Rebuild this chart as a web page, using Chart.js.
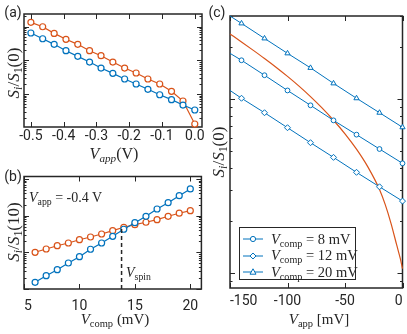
<!DOCTYPE html>
<html lang="en">
<head>
<meta charset="UTF-8">
<title>Spin signal vs bias</title>
<script src="https://cdn.jsdelivr.net/npm/chart.js"></script>
<style>
    body {
        margin: 0;
        width: 407px;
        height: 334px;
        overflow: hidden;
        position: relative;
        background: #fff;
        color: #262626;
        font-family: Roboto, sans-serif;
    }
    canvas { position: absolute; }
    .t {
        position: absolute;
        white-space: nowrap;
        line-height: 1;
        transform: translate(-50%, -50%);
    }
    .m { font-family: "Liberation Serif", serif; }
    .m sub { font-size: 70%; vertical-align: -0.3em; line-height: 0; }
    .rot { transform: translate(-50%, -50%) rotate(-90deg); }
    .left { transform: translate(0, -50%); }
    #legendC {
        position: absolute;
        left: 239px; top: 227px;
        width: 117px; height: 53px;
        box-sizing: border-box;
        border: 1px solid #262626;
        background: #fff;
    }
</style>
</head>
<body>

<canvas id="chartA" width="210" height="150" style="left:0;top:0"></canvas>
<canvas id="chartB" width="210" height="160" style="left:0;top:160px"></canvas>
<canvas id="chartC" width="203" height="320" style="left:210px;top:0"></canvas>

<div class="t" style="left:13px;top:12px;font-size:14px">(a)</div>
<div class="t" style="left:13px;top:176px;font-size:14px">(b)</div>
<div class="t" style="left:217px;top:12px;font-size:14px">(c)</div>

<div class="t m rot" style="left:13px;top:73px;font-size:17px"><i>S</i><sub><i>i</i></sub>/<i>S</i><sub>1</sub>(0)</div>
<div class="t m" style="left:114px;top:154px;font-size:16px"><i>V</i><sub><i>app</i></sub>(V)</div>

<div class="t m rot" style="left:13px;top:232px;font-size:17px"><i>S</i><sub><i>i</i></sub>/<i>S</i><sub>1</sub>(10)</div>
<div class="t m" style="left:115px;top:319px;font-size:15px"><i>V</i><sub>comp</sub> (mV)</div>
<div class="t m left" style="left:29px;top:198px;font-size:14px"><i>V</i><sub>app</sub> = -0.4 V</div>
<div class="t m left" style="left:126px;top:273px;font-size:14px"><i>V</i><sub>spin</sub></div>

<div class="t m rot" style="left:218px;top:152px;font-size:17px"><i>S</i><sub><i>i</i></sub>/<i>S</i><sub>1</sub>(0)</div>
<div class="t m" style="left:319px;top:319px;font-size:15px"><i>V</i><sub>app</sub> [mV]</div>

<div id="legendC"></div>

<script>
    const BLUE = '#0072BD';
    const ORANGE = '#D95319';

    // (a) signal vs applied bias
    const aVapp = [-0.5, -0.464, -0.429, -0.393, -0.357, -0.321, -0.286, -0.25, -0.214, -0.179, -0.143, -0.107, -0.071, -0.036, 0.0];
    const aOrange = [134, 99, 63, 42, 29.8, 19.3, 13.7, 8.9, 5.9, 4.2, 2.79, 1.98, 1.20, 0.62, 0.129];
    const aBlue = [64.6, 43.7, 29.8, 19.3, 13.1, 8.9, 5.9, 4.11, 2.79, 1.98, 1.38, 0.95, 0.68, 0.47, 0.335];
    const aTicks = [-0.5, -0.4, -0.3, -0.2, -0.1, 0.0];

    // (b) signal vs compensation voltage at Vapp = -0.4 V
    const bVcomp = [6, 7, 8, 9, 10, 11, 12, 13, 14, 15, 16, 17, 18, 19, 20];
    const bOrange = [1.00, 1.23, 1.51, 1.79, 2.20, 2.61, 3.15, 3.88, 4.80, 5.65, 6.57, 7.73, 9.57, 11.6, 13.6];
    const bBlue = [0.152, 0.230, 0.336, 0.511, 0.759, 1.21, 1.79, 2.73, 4.24, 6.41, 9.57, 15.1, 22.5, 34.8, 53.1];
    const bTicks = [5, 10, 15, 20, 21];
    const vSpin = 13.8;
    const vSpinY = [0.1, 4.5];

    // (c) fixed compensation voltages and the orange reference curve
    const cVcomp = [8, 12, 20];
    const cVapp = [-150, -140, -120, -100, -80, -60, -40, -20, 0];
    const c8 = [1.83, 1.67, 1.37, 1.12, 0.920, 0.754, 0.624, 0.516, 0.427];
    const c12 = [1.12, 1.01, 0.834, 0.684, 0.561, 0.462, 0.379, 0.313, 0.259];
    const c20 = [3.00, 2.72, 2.23, 1.83, 1.51, 1.23, 1.01, 0.834, 0.688];
    const cCurveV = [-150, -140, -130, -120, -110, -100, -90, -80, -70, -60, -50, -40, -30, -20, -15, -10, -5, -2, 0];
    const cCurve = [2.366, 2.128, 1.910, 1.710, 1.524, 1.349, 1.186, 1.033, 0.889, 0.755, 0.631, 0.515, 0.406, 0.302, 0.247, 0.193, 0.1445, 0.1216, 0.106];
    const cTicks = [-150, -100, -50, 0];
    const cMarkers = ['circle', 'rectRot', 'triangle'];

    const pts = (xs, ys) => xs.map((x, i) => ({x: x, y: ys[i]}));

    // box with inward ticks on all four sides, log minor ticks on y
    const framePlugin = {
        id: 'frame',
        beforeDatasetsDraw(chart, args, opts) {
            const {ctx, chartArea: a} = chart;
            const x = chart.scales.x, y = chart.scales.y;
            ctx.save();
            ctx.strokeStyle = '#262626';
            ctx.lineWidth = 1;
            ctx.beginPath();
            opts.xTicks.forEach(v => {
                const px = Math.round(x.getPixelForValue(v)) + 0.5;
                ctx.moveTo(px, a.bottom); ctx.lineTo(px, a.bottom - opts.len);
                ctx.moveTo(px, a.top); ctx.lineTo(px, a.top + opts.len);
            });
            const lo = Math.floor(Math.log10(y.min)), hi = Math.ceil(Math.log10(y.max));
            for (let k = lo; k <= hi; k++) {
                for (let m = 1; m <= 9; m++) {
                    const v = m * Math.pow(10, k);
                    if (v < y.min || v > y.max) continue;
                    const py = Math.round(y.getPixelForValue(v)) + 0.5;
                    const l = m === 1 ? opts.len : opts.len / 2;
                    ctx.moveTo(a.left, py); ctx.lineTo(a.left + l, py);
                    ctx.moveTo(a.right, py); ctx.lineTo(a.right - l, py);
                }
            }
            ctx.stroke();
            ctx.lineWidth = 1.5;
            ctx.strokeRect(a.left, a.top, a.right - a.left, a.bottom - a.top);
            ctx.restore();
        }
    };

    function panel(id, cfg) {
        return new Chart(document.getElementById(id), {
            type: 'line',
            data: { datasets: cfg.datasets },
            options: {
                responsive: false,
                animation: false,
                devicePixelRatio: 1,
                layout: { padding: cfg.padding },
                plugins: {
                    legend: { display: false },
                    tooltip: { enabled: false },
                    frame: { xTicks: cfg.xTicks, len: 5 }
                },
                scales: {
                    x: {
                        type: 'linear',
                        min: cfg.xMin,
                        max: cfg.xMax,
                        grid: { display: false, drawTicks: false },
                        border: { display: false },
                        ticks: {
                            font: { size: 14, family: 'Roboto, sans-serif' },
                            color: '#262626',
                            padding: cfg.labelPad,
                            autoSkip: false,
                            maxRotation: 0,
                            align: cfg.align || 'center',
                            callback: cfg.fmt
                        },
                        afterBuildTicks: s => { s.ticks = cfg.xLabels.map(v => ({value: v})); },
                        afterFit: s => { s.height = cfg.axisH; }
                    },
                    y: { type: 'logarithmic', display: false, min: cfg.yMin, max: cfg.yMax }
                }
            },
            plugins: [framePlugin]
        });
    }

    const markerSet = color => ({
        borderColor: color,
        borderWidth: 1.2,
        pointRadius: 3,
        pointBorderWidth: 1.2,
        pointBorderColor: color,
        pointBackgroundColor: '#fff',
        clip: false
    });

    panel('chartA', {
        padding: { left: 24, top: 14, right: 8, bottom: 0 },
        axisH: 23, labelPad: 1.3,
        xMin: -0.521, xMax: 0.022,
        xLabels: aTicks, xTicks: aTicks,
        fmt: v => v.toFixed(1),
        yMin: 0.105, yMax: 237,
        datasets: [
            Object.assign({ data: pts(aVapp, aBlue) }, markerSet(BLUE)),
            Object.assign({ data: pts(aVapp, aOrange) }, markerSet(ORANGE))
        ]
    });

    panel('chartB', {
        padding: { left: 24, top: 16.5, right: 8, bottom: 0 },
        axisH: 31, labelPad: 8.6,
        xMin: 5, xMax: 21,
        xLabels: bTicks, xTicks: [5, 10, 15, 20],
        align: 'inner',
        fmt: v => (v === 21 ? '' : String(v)),
        yMin: 0.1, yMax: 116,
        datasets: [
            { data: pts([vSpin, vSpin], vSpinY), borderColor: '#262626', borderWidth: 1.5, borderDash: [4, 3], pointRadius: 0, clip: false },
            Object.assign({ data: pts(bVcomp, bBlue) }, markerSet(BLUE)),
            Object.assign({ data: pts(bVcomp, bOrange) }, markerSet(ORANGE))
        ]
    });

    const cLine = (ys, style) => ({
        data: pts(cVapp, ys),
        borderColor: BLUE,
        borderWidth: 1,
        pointStyle: style,
        pointRadius: ctx => (ctx.dataIndex === 0 ? 0 : (style === 'circle' ? 2.4 : 3)),
        pointBorderWidth: 1,
        pointBorderColor: BLUE,
        pointBackgroundColor: '#fff',
        clip: false
    });

    panel('chartC', {
        padding: { left: 20, top: 16, right: 10.5, bottom: 0 },
        axisH: 32, labelPad: 4.6,
        xMin: -150, xMax: 0,
        xLabels: cTicks, xTicks: cTicks,
        align: 'inner',
        fmt: v => String(v),
        yMin: 0.082, yMax: 3.0,
        datasets: [
            cLine(c8, cMarkers[0]),
            cLine(c12, cMarkers[1]),
            cLine(c20, cMarkers[2]),
            { data: pts(cCurveV, cCurve), borderColor: ORANGE, borderWidth: 1.2, pointRadius: 0, cubicInterpolationMode: 'monotone', clip: false }
        ]
    });

    // legend for (c), subscripted text needs html
    const shapes = {
        circle: '<circle cx="10" cy="5" r="2.6" fill="#fff" stroke="' + BLUE + '"/>',
        rectRot: '<polygon points="10,2 13,5 10,8 7,5" fill="#fff" stroke="' + BLUE + '"/>',
        triangle: '<polygon points="10,1.8 13,7.2 7,7.2" fill="#fff" stroke="' + BLUE + '"/>'
    };
    const legend = document.getElementById('legendC');
    cVcomp.forEach((v, i) => {
        const row = document.createElement('div');
        row.style.cssText = 'position:absolute;left:3px;top:' + (4 + i * 16.5) + 'px;height:14px;display:flex;align-items:center;white-space:nowrap';
        row.innerHTML = '<svg width="22" height="10" style="margin-right:6px"><line x1="0" y1="5" x2="20" y2="5" stroke="' + BLUE + '" stroke-width="1"/>' +
            shapes[cMarkers[i]] + '</svg><span class="m" style="font-size:14.5px"><i>V</i><sub>comp</sub> = ' + v + ' mV</span>';
        legend.appendChild(row);
    });
</script>

</body>
</html>
